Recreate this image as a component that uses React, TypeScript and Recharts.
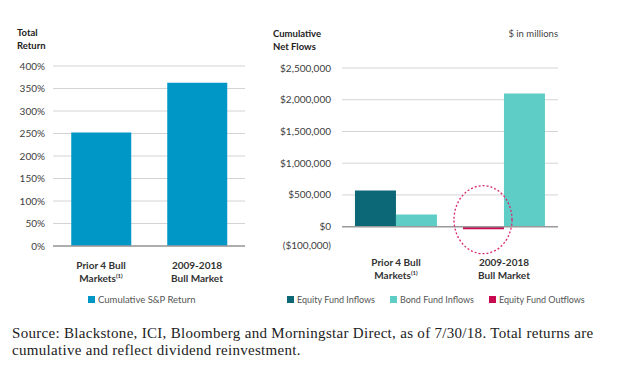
import {
  BarChart,
  Bar,
  XAxis,
  YAxis,
  CartesianGrid,
  ReferenceLine,
  ReferenceDot,
} from 'recharts'

const categories = ['Prior 4 Bull Markets', '2009-2018 Bull Market']
const categoryLines = [
  ['Prior 4 Bull', 'Markets'],
  ['2009-2018', 'Bull Market'],
]
const categoryNotes = ['(1)', '']

const spReturn = [252, 363]
const returnTicks = [0, 50, 100, 150, 200, 250, 300, 350, 400]

const equityInflows = [570000, 0]
const bondInflows = [190000, 2100000]
const equityOutflows = [0, -40000]
const flowTicks = [-100000, 0, 500000, 1000000, 1500000, 2000000, 2500000]
const flowGrid = [500000, 1000000, 1500000, 2000000, 2500000]

const returnSeries = [{ name: 'Cumulative S&P Return', color: '#0097c7' }]
const flowSeries = [
  { name: 'Equity Fund Inflows', color: '#0c6777' },
  { name: 'Bond Fund Inflows', color: '#5ecdc6' },
  { name: 'Equity Fund Outflows', color: '#c8084f' },
]

const returnData = categories.map((c, i) => ({ name: c, sp: spReturn[i] }))
const flowData = categories.map((c, i) => ({
  name: c,
  equityIn: equityInflows[i],
  bondIn: bondInflows[i],
  equityOut: equityOutflows[i],
}))

const font = 'Lato, "Open Sans", sans-serif'

function CategoryTick({ x, y, payload, offset }: any) {
  const i = categories.indexOf(payload.value)
  const lines = categoryLines[i] || []
  return (
    <text
      x={x}
      y={y + offset}
      textAnchor="middle"
      fontFamily={font}
      fontSize={10}
      fontWeight={700}
      fill="#333"
    >
      <tspan x={x} dy={0}>
        {lines[0]}
      </tspan>
      <tspan x={x} dy={12.5}>
        {lines[1]}
      </tspan>
      {categoryNotes[i] ? (
        <tspan fontSize={6} dy={-4}>
          {categoryNotes[i]}
        </tspan>
      ) : null}
    </text>
  )
}

function fmtFlow(v: number) {
  const s = '$' + Math.abs(v).toLocaleString('en-US')
  return v < 0 ? `(${s})` : s
}

function FlowTick({ x, y, payload }: any) {
  return (
    <text
      x={x}
      y={y + (payload.value < 0 ? 12 : 0)}
      dy={3.5}
      textAnchor="end"
      fontFamily={font}
      fontSize={10}
      fill="#404040"
    >
      {fmtFlow(payload.value)}
    </text>
  )
}

function LegendRow({ items, left, width, size, gap }: any) {
  return (
    <div
      style={{
        position: 'absolute',
        top: 294,
        left,
        width,
        textAlign: 'left',
        fontFamily: font,
        fontSize: size,
        color: '#555',
        whiteSpace: 'nowrap',
      }}
    >
      {items.map((s: any) => (
        <span key={s.name} style={{ marginRight: gap }}>
          <span
            style={{
              display: 'inline-block',
              width: 7,
              height: 7,
              background: s.color,
              marginRight: 3,
            }}
          />
          {s.name}
        </span>
      ))}
    </div>
  )
}

const titleStyle: React.CSSProperties = {
  position: 'absolute',
  fontFamily: font,
  fontSize: 9.5,
  fontWeight: 700,
  color: '#222',
  lineHeight: '13px',
}

export default function App() {
  return (
    <div
      style={{
        position: 'absolute',
        left: 0,
        top: 0,
        width: 631,
        height: 382,
        background: '#fff',
        overflow: 'hidden',
      }}
    >
      <div style={{ ...titleStyle, left: 17, top: 26 }}>
        Total
        <br />
        Return
      </div>
      <div style={{ ...titleStyle, left: 273, top: 27 }}>
        Cumulative
        <br />
        Net Flows
      </div>
      <div
        style={{
          ...titleStyle,
          fontWeight: 400,
          left: 480,
          width: 78,
          textAlign: 'right',
          top: 27,
          color: '#444',
        }}
      >
        $ in millions
      </div>

      <div style={{ position: 'absolute', left: 0, top: 0 }}>
        <BarChart
          width={260}
          height={320}
          data={returnData}
          margin={{ top: 66, right: 15, left: 0, bottom: 44 }}
          barCategoryGap="19%"
        >
          <CartesianGrid vertical={false} stroke="#d4d4d4" />
          <XAxis
            dataKey="name"
            axisLine={{ stroke: '#9a9a9a', strokeWidth: 1.5 }}
            tickLine={false}
            tick={<CategoryTick offset={15} />}
            interval={0}
          />
          <YAxis
            width={53}
            domain={[0, 400]}
            ticks={returnTicks}
            interval={0}
            axisLine={false}
            tickLine={false}
            tickSize={0}
            tickMargin={8}
            tickFormatter={(v) => `${v}%`}
            tick={{ fontSize: 10, fill: '#404040', fontFamily: font }}
          />
          <Bar
            dataKey="sp"
            name={returnSeries[0].name}
            fill={returnSeries[0].color}
            isAnimationActive={false}
          />
        </BarChart>
      </div>
      <LegendRow items={returnSeries} left={88} width={170} size={9.5} gap={0} />

      <div style={{ position: 'absolute', left: 260, top: 0 }}>
        <BarChart
          width={371}
          height={320}
          data={flowData}
          margin={{ top: 68, right: 73, left: 0, bottom: 57 }}
          barCategoryGap="12%"
          barGap={0}
          stackOffset="sign"
        >
          <CartesianGrid
            vertical={false}
            stroke="#d4d4d4"
            horizontalValues={flowGrid}
          />
          <XAxis
            dataKey="name"
            axisLine={false}
            tickLine={false}
            tick={<CategoryTick offset={25} />}
            interval={0}
          />
          <YAxis
            width={82}
            domain={[-100000, 2500000]}
            ticks={flowTicks}
            interval={0}
            axisLine={false}
            tickLine={false}
            tickSize={0}
            tickMargin={11}
            tick={<FlowTick />}
          />
          <ReferenceLine y={0} stroke="#9a9a9a" strokeWidth={1.5} />
          <Bar
            dataKey="equityIn"
            name={flowSeries[0].name}
            stackId="equity"
            fill={flowSeries[0].color}
            isAnimationActive={false}
          />
          <Bar
            dataKey="bondIn"
            name={flowSeries[1].name}
            fill={flowSeries[1].color}
            isAnimationActive={false}
          />
          <Bar
            dataKey="equityOut"
            name={flowSeries[2].name}
            stackId="equity"
            fill={flowSeries[2].color}
            isAnimationActive={false}
          />
          <ReferenceDot
            x={categories[1]}
            y={110000}
            shape={(p: any) => (
              <ellipse
                cx={p.cx - 21}
                cy={p.cy}
                rx={29}
                ry={34}
                fill="none"
                stroke="#d8286f"
                strokeWidth={1.3}
                strokeDasharray="2 2"
              />
            )}
          />
        </BarChart>
      </div>
      <LegendRow items={flowSeries} left={287} width={320} size={9} gap={15} />

      <div
        style={{
          position: 'absolute',
          left: 12,
          top: 325,
          width: 619,
          fontFamily: '"Liberation Serif", serif',
          fontSize: 15,
          letterSpacing: 0.3,
          lineHeight: '17px',
          color: '#222',
          whiteSpace: 'nowrap',
        }}
      >
        Source: Blackstone, ICI, Bloomberg and Morningstar Direct, as of 7/30/18. Total
        returns are
        <br />
        cumulative and reflect dividend reinvestment.
      </div>
    </div>
  )
}
